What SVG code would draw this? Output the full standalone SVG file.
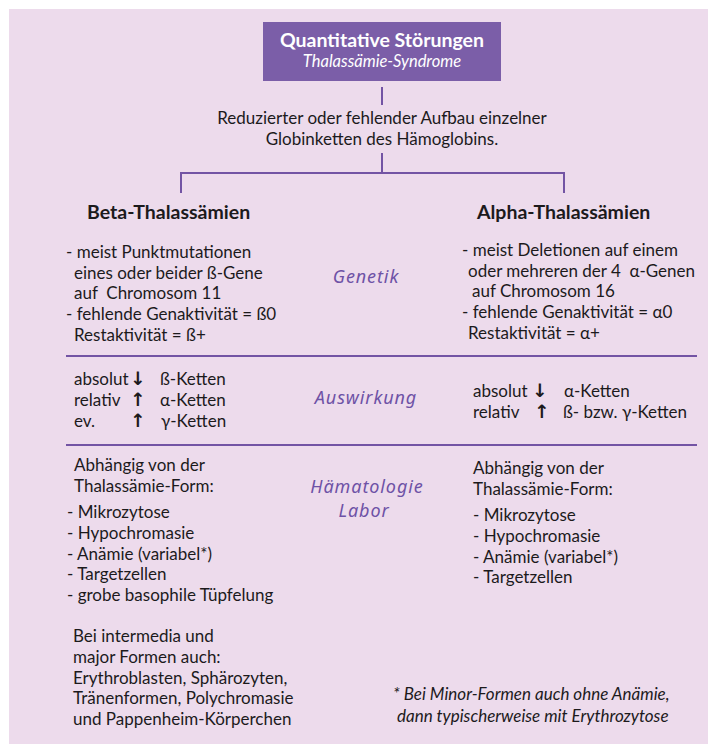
<svg xmlns="http://www.w3.org/2000/svg" width="708" height="744" viewBox="0 0 708 744">
  <style>
    .bg { fill: #eddbec; }
    .box { fill: #7b5ea8; }
    .wire { stroke: #7354a4; stroke-width: 2; fill: none; }
    .rule { stroke: #7354a4; stroke-width: 2; fill: none; }
    text { font-family: "Lato", "Liberation Sans", sans-serif; fill: #1c1a1c; font-size: 17px; white-space: pre; }
    .title { fill: #ffffff; font-weight: bold; font-size: 19.5px; text-anchor: middle; }
    .subtitle { fill: #ffffff; font-style: italic; font-size: 16.5px; text-anchor: middle; }
    .center { text-anchor: middle; }
    .head { font-weight: bold; font-size: 19.5px; }
    .arrow { font-family: "DejaVu Sans", sans-serif; font-weight: bold; font-size: 18.5px; }
    .topic { fill: #6e52a6; font-family: "Noto Sans", "DejaVu Sans", sans-serif; font-style: italic; font-size: 18px; letter-spacing: 0.9px; text-anchor: middle; }
    .note { font-style: italic; }
  </style>

  <rect class="bg" x="9" y="9" width="699" height="735"/>

  <g id="root">
    <rect class="box" x="263" y="22" width="238" height="59"/>
    <text class="title" x="382" y="47">Quantitative Störungen</text>
    <text class="subtitle" x="382" y="67">Thalassämie-Syndrome</text>
  </g>

  <g id="definition">
    <text class="center" x="382" y="124">Reduzierter oder fehlender Aufbau einzelner</text>
    <text class="center" x="382" y="145">Globinketten des Hämoglobins.</text>
  </g>

  <g id="connectors">
    <line class="wire" x1="382" y1="87" x2="382" y2="105"/>
    <line class="wire" x1="382" y1="153" x2="382" y2="173"/>
    <polyline class="wire" points="181,193 181,173 564,173 564,193"/>
  </g>

  <g id="dividers">
    <line class="rule" x1="66" y1="356" x2="697" y2="356"/>
    <line class="rule" x1="66" y1="445" x2="697" y2="445"/>
  </g>

  <g id="topics">
    <text class="topic" x="366" y="283">Genetik</text>
    <text class="topic" x="366" y="404">Auswirkung</text>
    <text class="topic" x="367" y="493">Hämatologie</text>
    <text class="topic" x="364" y="517">Labor</text>
  </g>

  <g id="beta">
    <text class="head" x="87" y="219">Beta-Thalassämien</text>
    <text x="66" y="258">- meist Punktmutationen</text>
    <text x="74" y="279">eines oder beider ß-Gene</text>
    <text x="74" y="299">auf  Chromosom 11</text>
    <text x="66" y="320">- fehlende Genaktivität = ß0</text>
    <text x="74" y="341">Restaktivität = ß+</text>

    <text x="74" y="385">absolut</text><text class="arrow" x="130" y="385">↓</text><text x="160" y="385">ß-Ketten</text>
    <text x="74" y="406">relativ</text><text class="arrow" x="130" y="406">↑</text><text x="160" y="406">α-Ketten</text>
    <text x="74" y="427">ev.</text><text class="arrow" x="130" y="427">↑</text><text x="161" y="427">γ-Ketten</text>

    <text x="74" y="471">Abhängig von der</text>
    <text x="74" y="492">Thalassämie-Form:</text>
    <text x="67" y="518">- Mikrozytose</text>
    <text x="67" y="539">- Hypochromasie</text>
    <text x="67" y="560">- Anämie (variabel*)</text>
    <text x="67" y="580">- Targetzellen</text>
    <text x="67" y="601">- grobe basophile Tüpfelung</text>
    <text x="73" y="642">Bei intermedia und</text>
    <text x="73" y="663">major Formen auch:</text>
    <text x="73" y="684">Erythroblasten, Sphärozyten,</text>
    <text x="73" y="704">Tränenformen, Polychromasie</text>
    <text x="73" y="725">und Pappenheim-Körperchen</text>
  </g>

  <g id="alpha">
    <text class="head" x="477" y="219">Alpha-Thalassämien</text>
    <text x="462" y="256">- meist Deletionen auf einem</text>
    <text x="468" y="277">oder mehreren der 4  α-Genen</text>
    <text x="472" y="297">auf Chromosom 16</text>
    <text x="462" y="318">- fehlende Genaktivität = α0</text>
    <text x="468" y="339">Restaktivität = α+</text>

    <text x="473" y="397">absolut</text><text class="arrow" x="532" y="397">↓</text><text x="564" y="397">α-Ketten</text>
    <text x="473" y="418">relativ</text><text class="arrow" x="534" y="418">↑</text><text x="563" y="418">ß- bzw. γ-Ketten</text>

    <text x="473" y="474">Abhängig von der</text>
    <text x="473" y="495">Thalassämie-Form:</text>
    <text x="473" y="521">- Mikrozytose</text>
    <text x="473" y="542">- Hypochromasie</text>
    <text x="473" y="563">- Anämie (variabel*)</text>
    <text x="473" y="583">- Targetzellen</text>
  </g>

  <g id="footnote">
    <text class="note" x="393" y="700">* Bei Minor-Formen auch ohne Anämie,</text>
    <text class="note" x="397" y="722">dann typischerweise mit Erythrozytose</text>
  </g>
</svg>
